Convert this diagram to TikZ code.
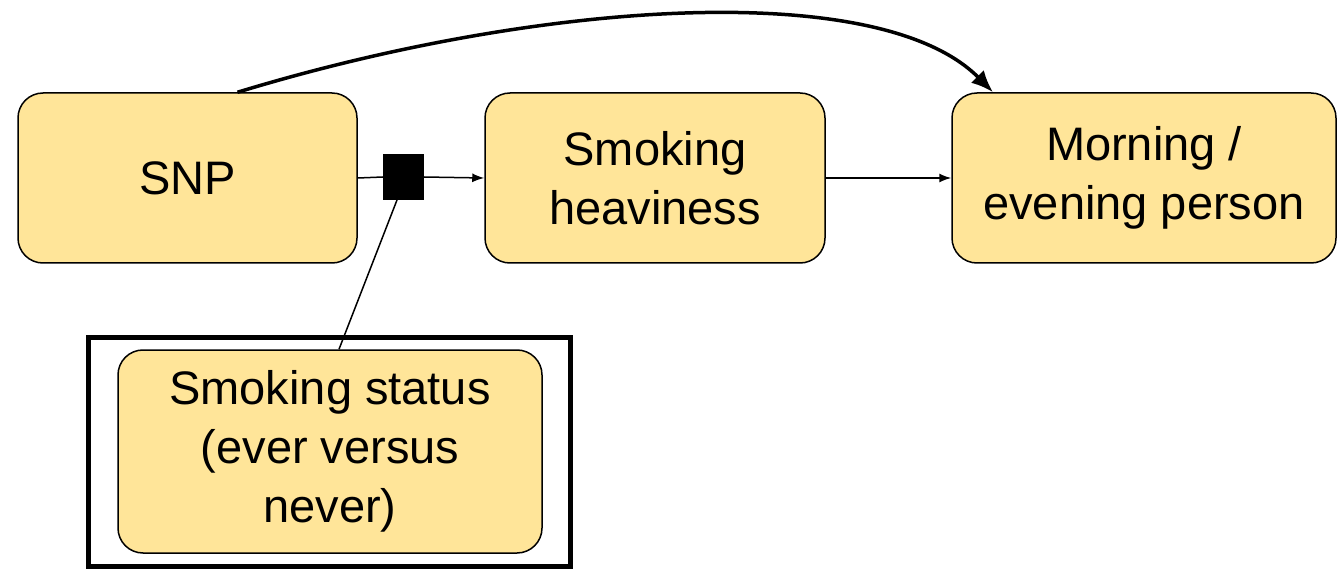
\documentclass[tikz,border=0pt]{standalone}
\usepackage{fontspec}
\setmainfont{Liberation Sans}
\usetikzlibrary{arrows.meta}
\definecolor{boxfill}{HTML}{FFE599}
\begin{document}
\begin{tikzpicture}[x=0.5pt,y=-0.5pt,
  varbox/.style={draw=black,line width=0.75pt,fill=boxfill,rounded corners=12.5pt,
    align=center,inner sep=0pt,font=\fontsize{23.5}{29.5}\selectfont},
  thin/.style={line width=0.75pt},
  thinarrow/.style={line width=0.75pt,-{Latex[length=6pt,width=4.5pt]}},
  bigarrow/.style={line width=1.75pt,-{Latex[length=11pt,width=9pt]}}]
\useasboundingbox (0,0) rectangle (1338,572);
\node[varbox,minimum width=169.5pt,minimum height=85pt] (snp) at (187.5,178) {SNP};
\node[varbox,minimum width=170pt,minimum height=85pt] (heav) at (655,178) {Smoking\\heaviness};
\node[varbox,minimum width=192pt,minimum height=85pt] (morn) at (1144,178) {Morning /\\evening person};
\node[draw=black,line width=2.5pt,minimum width=241pt,minimum height=114.5pt,inner sep=0pt] (frame) at (329.5,452) {};
\node[varbox,minimum width=212pt,minimum height=101.5pt] (status) at (330,451.5) {Smoking status\\(ever versus\\never)};
\node[fill=black,draw=black,line width=0.5pt,minimum width=20pt,minimum height=22.5pt,inner sep=0pt] (sq) at (403.5,177) {};
\draw[thin] (snp.east) -- (sq.west);
\draw[thinarrow] (sq.east) -- (heav.west);
\draw[thinarrow] (heav.east) -- (morn.west);
\draw[thin] ([xshift=-3.25pt]sq.south) -- ([xshift=4.5pt]status.north);
\draw[bigarrow] ([xshift=25pt]snp.north) .. controls (540,0) and (880,-22) .. ([xshift=-75.5pt]morn.north);
\end{tikzpicture}
\end{document}
